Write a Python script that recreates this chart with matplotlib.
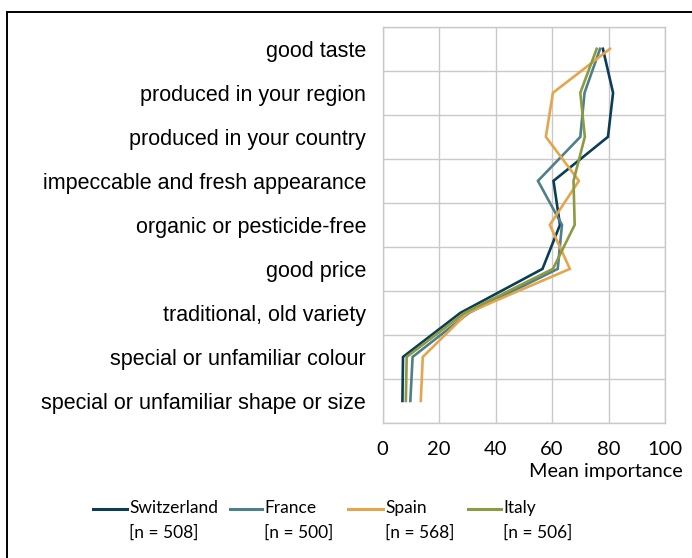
import matplotlib
matplotlib.use('Agg')
import matplotlib.pyplot as plt
from matplotlib.lines import Line2D
from matplotlib.patches import Rectangle
import numpy as np

ATTRIBUTES = [
    'good taste',
    'produced in your region',
    'produced in your country',
    'impeccable and fresh appearance',
    'organic or pesticide-free',
    'good price',
    'traditional, old variety',
    'special or unfamiliar colour',
    'special or unfamiliar shape or size',
]

switzerland = [78.0, 81.6, 79.8, 60.5, 62.8, 56.6, 27.5, 7.2, 7.0]
france = [77.0, 71.5, 70.0, 55.0, 63.5, 62.0, 30.5, 10.6, 9.8]
spain = [80.5, 60.3, 57.8, 69.5, 59.2, 66.3, 30.0, 14.2, 13.5]
italy = [75.8, 70.0, 71.6, 67.6, 68.0, 60.3, 29.0, 8.5, 8.2]

SERIES = ['Switzerland', 'France', 'Spain', 'Italy']
SAMPLE_N = [508, 500, 568, 506]
COLORS = {'Switzerland': '#0c3d56', 'France': '#4f7f88',
          'Spain': '#e4a54c', 'Italy': '#8c9a42'}
VALUES = {'Switzerland': switzerland, 'France': france,
          'Spain': spain, 'Italy': italy}

XTICKS = [0, 20, 40, 60, 80, 100]

fig = plt.figure(figsize=(6.92, 5.58), dpi=100)
ax = fig.add_axes([0.553, 0.242, 0.408, 0.710])

y = np.arange(len(ATTRIBUTES))
for name in SERIES:
    ax.plot(VALUES[name], y, color=COLORS[name], linewidth=1.9,
            solid_joinstyle='miter')

ax.set_xlim(0, 100)
ax.set_ylim(len(ATTRIBUTES) - 0.5, -0.5)
ax.set_xticks(XTICKS)
ax.set_xticklabels([str(t) for t in XTICKS], fontfamily='Lato', fontsize=14.5)
ax.set_yticks(y)
ax.set_yticklabels(ATTRIBUTES, fontfamily='Liberation Sans', fontsize=15.5)
ax.set_yticks(np.arange(-0.5, len(ATTRIBUTES), 1.0), minor=True)
ax.tick_params(axis='both', which='both', length=0)
ax.tick_params(axis='x', pad=13)
ax.tick_params(axis='y', pad=12)
ax.grid(True, axis='x', which='major', color='#c9c9c9', linewidth=1.0)
ax.grid(True, axis='y', which='minor', color='#c9c9c9', linewidth=1.0)
ax.set_axisbelow(True)
for sp in ax.spines.values():
    sp.set_color('#c9c9c9')
    sp.set_linewidth(1.0)

fig.text(683 / 692, 1 - 472 / 558, 'Mean importance', ha='right', va='center',
         fontfamily='Lato', fontsize=14.3)

# legend drawn by hand so the line sits beside the first text line
leg_x = [(93, 127), (230, 262), (348, 383), (468, 501)]
for (x0, x1), name, n in zip(leg_x, SERIES, SAMPLE_N):
    fig.add_artist(Line2D([x0 / 692, x1 / 692], [1 - 509 / 558] * 2,
                          transform=fig.transFigure, color=COLORS[name],
                          linewidth=2.2))
    fig.text((x1 + 2) / 692, 1 - 508 / 558, name, ha='left', va='center',
             fontfamily='Lato', fontsize=12.5)
    fig.text((x1 + 2) / 692, 1 - 533 / 558, f'[n = {n}]', ha='left', va='center',
             fontfamily='Lato', fontsize=12.5)

fig.add_artist(Rectangle((7 / 692, -0.2), 1.0, 1 - 12 / 558 + 0.2,
                         transform=fig.transFigure, fill=False,
                         edgecolor='black', linewidth=1.4))

fig.savefig('out.png', dpi=100)
